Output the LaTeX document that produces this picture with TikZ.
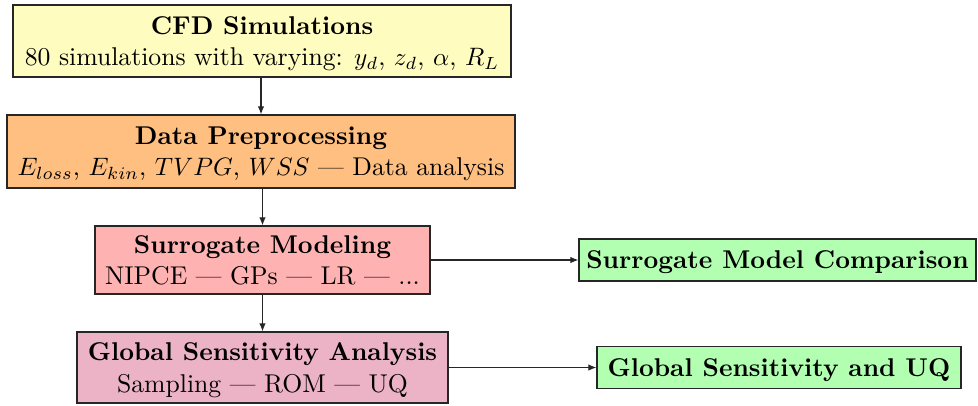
\documentclass[tikz,border=0pt]{standalone}
\usetikzlibrary{arrows.meta}
\begin{document}
\begin{tikzpicture}[x=0.397pt,y=-0.397pt,
  font=\fontsize{10.2pt}{12.4pt}\selectfont,
  box/.style={draw=black!85, line width=0.5pt, align=center, inner sep=0pt, text depth=0pt},
  conn/.style={-{Latex[length=3.2pt,width=2.6pt]}, line width=0.45pt, black!85}]
\useasboundingbox (0,0) rectangle (978,405);
\node[box, fill=yellow!25, minimum width=197.7pt, minimum height=28.6pt] (cfd) at (262,41)
  {\textbf{CFD Simulations}\\80 simulations with varying: $y_d$, $z_d$, $\alpha$, $R_L$};
\node[box, fill=orange!50, minimum width=201.7pt, minimum height=29pt] (pre) at (261,151.5)
  {\textbf{Data Preprocessing}\\$E_{loss}$, $E_{kin}$, $TVPG$, $WSS$ --- Data analysis};
\node[box, fill=red!30, minimum width=133pt, minimum height=27pt] (sur) at (262.5,260)
  {\textbf{Surrogate Modeling}\\NIPCE --- GPs --- LR --- ...};
\node[box, fill=purple!30, minimum width=147.3pt, minimum height=28.2pt] (gsa) at (262.5,367.5)
  {\textbf{Global Sensitivity Analysis}\\Sampling --- ROM --- UQ};
\node[box, fill=green!30, minimum width=157.6pt, minimum height=16.7pt] (smc) at (777.5,260)
  {\textbf{Surrogate Model Comparison}};
\node[box, fill=green!30, minimum width=144.5pt, minimum height=16.7pt] (gsu) at (779,367.5)
  {\textbf{Global Sensitivity and UQ}};
\draw[conn] (cfd.south -| pre.north) -- (pre.north);
\draw[conn] (pre.south -| sur.north) -- (sur.north);
\draw[conn] (sur.south -| gsa.north) -- (gsa.north);
\draw[conn] (sur.east) -- (sur.east -| smc.west);
\draw[conn] (gsa.east) -- (gsa.east -| gsu.west);
\end{tikzpicture}
\end{document}
